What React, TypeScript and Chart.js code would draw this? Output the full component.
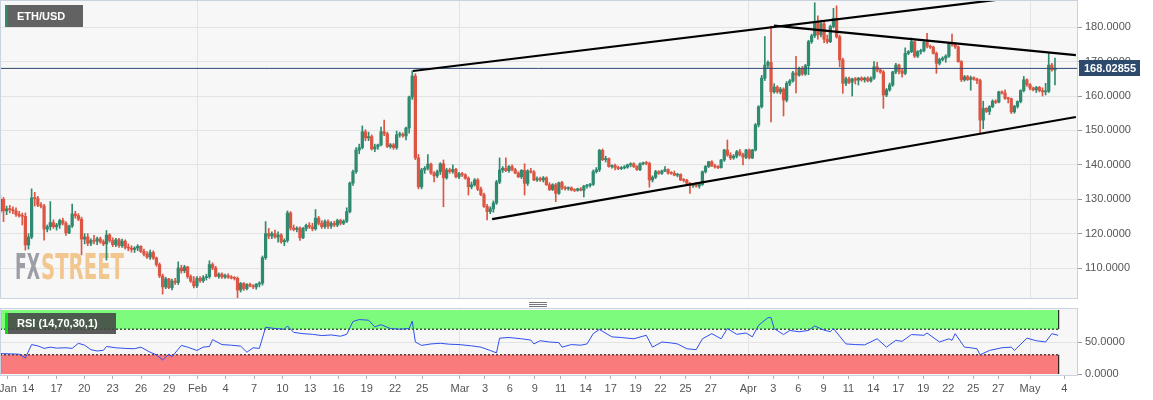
import React, { useEffect, useRef } from 'react';
import { Chart, registerables } from 'chart.js';
Chart.register(...registerables);

// ---- 8-hour ETH/USD candles (index 0 = first candle at the left edge) ----
const opens = [
  126.5,130,126.6,127.2,127,126.6,125.6,125.2,125,116.7,
  119,130.4,130.2,128.3,128,121.3,122,123.2,122,122.5,
  123.8,123,120.2,122.2,125.7,125.2,124.2,118.4,119,117.2,
  118,117.8,118.5,117.6,117,119.6,118,116.8,118.2,116.5,
  117.8,116,115.8,115.4,115.8,116.3,114.8,114,113.2,114.5,
  112.9,111,107.7,104.5,106.8,104.3,106.2,105.8,110,109.2,
  110.3,107.5,106.2,104.8,107,106.3,107.2,107.5,111,110,
  107.6,108.2,107.4,107.8,107.3,107.1,107,103.6,105.5,104,
  105.2,104.8,104.5,105.3,105.6,113,120,119.3,120,119,
  119.6,117.6,118,126,121.6,121.2,121.6,118.8,121.5,122.4,
  122,121.4,124.5,123,122,123.5,122.2,123,122.5,123.8,
  123,123.6,126.4,134.7,138,144.3,145,149.6,147.8,148.2,
  144.6,145.2,145.8,149.6,149,145.3,145.8,145,148.7,148.9,
  148.4,150.7,159.7,165.8,142,133.6,138.5,139,140.2,137.6,
  136.8,138,140.3,136.2,138.5,138,138.7,136.5,137.4,137.1,
  136.1,133.6,134.2,135.6,132.9,131.3,127.9,126.4,127.2,128.9,
  135,138.5,139,138.3,139.5,138.6,137.6,136.5,138.4,134.6,
  138.2,137.9,135.6,136,135.6,136.2,134.2,132.8,134.2,131.7,
  134.8,133.3,133.1,133.3,132.7,132.6,133,132.6,133.8,134,
  134.3,138,138.6,144.2,141.5,141.8,139.5,139.8,139.2,138.9,
  139.1,139.3,140,140.3,139.5,138.6,140.3,140.5,140.4,135.6,
  136.4,138,137.5,138.2,138.6,137.6,137.5,137,137.2,135.6,
  135.5,134.6,134,134.2,133.8,134.3,138,139.5,140.9,139.7,
  139.4,139.2,141.4,144.3,142.8,142,142.5,143.8,143,142.2,
  144.3,142,144.3,151.6,156.9,165.2,169,169.8,161.2,162.6,
  161.2,162,158.8,163.7,164.4,166.7,166.1,168,166.4,168.8,
  175.8,177.5,181.5,177.8,181,176.5,175.8,180.2,182.6,177.2,
  170.5,163.7,165,164,165,164.6,165.2,164.7,165.2,164.4,
  165.2,168.5,167.6,167,160.3,161.8,163.2,167,169,167.2,
  166.6,172.4,172.9,175.8,171.6,172.9,173.2,175.6,174.5,174.2,
  172.4,169.5,170.6,171,171.6,175.3,175,174.3,170,164.7,
  165.6,164.8,165.3,164.9,164.5,153,156.4,155.5,156.9,158.5,
  158.2,161.2,160.9,159.3,159.2,155.4,157,158.4,161.6,164.7,
  163.3,162.3,161.8,162.5,161.6,161.2,161.4,169,167.6,
];
const highs = [
  131,130.5,128,128.2,127.8,127.5,126.5,126,126,120,
  133,132,130.8,129,128.5,122.5,129.3,124,123,124.2,
  124.5,123.5,122.5,128.6,126.5,125.8,124.8,120,120,118.5,
  119.5,119,119,118.2,120.9,120,118.8,118.6,118.6,118.4,
  118.2,117,116.5,116.2,116.8,116.5,115.5,114.8,115.2,115,
  113.2,111.5,108.2,107.3,107,106.8,107,111.8,110.8,110.8,
  110.5,108,107.5,107.5,107.5,107.8,108.2,112.1,111.5,110.5,
  108.6,108.6,108.2,108.3,107.8,107.5,107.4,105.8,105.8,105.5,
  105.6,105.2,105.5,106,113.5,123.5,121.5,120.5,121,120.5,
  120,118.5,126.6,126.4,122.5,122,122,121.8,122.8,123.2,
  123,127,125,123.8,124,124,123.5,123.6,124.2,124.2,
  124,127.5,135,138.5,145,146,151.3,150.2,149.5,148.7,
  146,146,151,153,149.5,146.2,146.2,149.8,149.5,149.3,
  151,160,167.3,166.5,143,139,139.5,143,140.5,138,
  138.5,140.6,141.4,139,139,140,139,137.8,137.8,137.4,
  136.5,135,136,136,133.5,131.8,128.5,127.8,129.5,135.5,
  142,139.5,142,139.8,140,139,138,138.6,140.3,138.6,
  139,138.3,136.5,136.4,136.6,136.5,134.8,134.5,134.6,135,
  135.2,133.8,133.6,133.6,133,133.2,133.4,134,134.3,134.6,
  138.5,139.2,144.5,144.6,142.5,142,140,140.2,139.6,139.5,
  139.8,140.2,140.6,140.6,139.8,140.6,140.8,141,140.8,136.8,
  138.4,138.3,138.5,139.5,138.8,138,138.2,137.5,137.4,136,
  135.8,134.9,134.6,134.8,134.5,138.2,139.8,141,141.2,140.2,
  139.8,141.6,144.5,147.2,143.5,143,144.2,144.5,143.4,144.5,
  144.6,144.5,152,157.2,166,177.3,170.2,180.3,163.6,163,
  162.5,162.4,164.2,164.8,167.2,171.5,168.4,168.6,169.2,176.2,
  178,187.1,183.3,182.1,181.5,177.7,180.6,185.5,186.2,177.7,
  171,165.5,165.5,165.2,165.4,165.4,165.6,165.5,165.6,165.6,
  170,169.8,168,167.4,162.2,163.8,167.2,169.5,169.3,167.8,
  174,173.2,176.9,176,173.2,173.6,176,178.2,174.8,174.5,
  172.8,171,171.4,172,175.6,178,175.5,174.6,170.3,166,
  166,165.8,165.6,165.2,164.9,158.5,156.6,157.2,158.9,158.9,
  161.4,161.5,161.8,159.6,159.4,157.3,158.6,161.8,165.7,165,
  163.6,162.6,162.8,162.8,162.4,163.7,172.4,169.5,171,
];
const lows = [
  126,123.5,125.5,126,125.8,125,124.8,122.5,115.2,115.5,
  118.5,128,127.8,127.5,118.1,120.5,121,121.5,121,121.5,
  122.5,119.5,120,121.8,124.5,123.8,113.8,117,116.5,116.5,
  117,116.8,117.2,116.5,112.3,117.5,116.2,116.2,116,116,
  115.5,115,114.6,114.5,115,114.5,113.5,112.8,112.5,112.5,
  110.5,107.2,102.4,104,104,103.6,105.2,105.2,108.5,108.6,
  107,105.8,104.2,104.3,105.8,105.8,106.5,107,109.5,107.4,
  107,107,107,107,106.8,106.5,101.4,103,103.5,103.6,
  104.5,104,103.8,104.5,105,112.5,118.5,118.5,118.7,117.5,
  117.2,116.5,117.5,121,120.8,120.5,118,118.5,120.8,121.5,
  120.8,121,122.5,121.5,121.5,121.5,121.5,122,122,122.5,
  122.6,123.2,126,134,137.5,143.2,144.6,147,147,144.3,
  143.8,144.5,145.5,148.5,145,144.8,144.5,144.5,148,148,
  147.2,149.2,159,141.5,133,133,137.5,138.5,137.2,135,
  136.3,137.2,127.8,135.8,137.5,137.5,136.2,136,136.6,135.8,
  131.2,133,133.8,132.5,131,127.6,124,125.8,126.2,128.5,
  134.5,137.8,138,137.8,138.2,137.4,136.3,136,131.2,134,
  137.6,135.4,135.2,135.2,135,134,132.5,132.5,129.3,131.4,
  132.8,132.6,132.6,132.4,132.2,132.3,132.4,130.7,133.2,133.5,
  134,137.6,138,141.2,140.8,139.3,139,138.5,138.6,138.6,
  138.8,139,139.4,139.2,138.4,138.3,140,140,133.5,135,
  136,137.2,137.2,138,137.3,137.2,136.8,136.5,135.4,135,
  134.4,131.7,133.4,133.5,133.2,134,137.6,139.2,139.5,139,
  138.9,139,141,142.5,141.5,141.6,142,142.6,140,141.8,
  141.7,141.8,144,151,156.5,164.5,168,152.5,160.8,160.8,
  160.6,154.2,158.3,163,164,160.9,165.8,166,166,166.2,
  175.3,177,176.5,177.2,175.5,175.3,175.5,179.8,176.8,168.5,
  160.8,163,163.6,160,163.5,163.2,164.3,164,164.1,164,
  164.8,167,166.6,156.4,159.8,161.4,162.8,166.5,166.4,165.5,
  166.2,172,172.6,171.2,171.2,172.2,172.8,174,173.8,172.2,
  166.6,169,170.2,169.8,171.2,174.5,173.8,169.8,164.2,164.3,
  164.5,161.7,164.6,163.6,149.2,150.5,155.2,154.6,156.6,157.8,
  158,160.5,159,158,154.9,155,156.5,158,161.2,162.8,
  161.8,161.5,161,161.2,160,160.3,161,167.2,163.2,
];
const closes = [
  130,126.6,127.2,127,126.6,125.6,125.2,125,116.7,119,
  130.4,130.2,128.3,128,121.3,122,123.2,122,122.5,123.8,
  123,120.2,122.2,125.7,125.2,124.2,118.4,119,117.2,118,
  117.8,118.5,117.6,117,119.6,118,116.8,118.2,116.5,117.8,
  116,115.8,115.4,115.8,116.3,114.8,114,113.2,114.5,112.9,
  111,107.7,104.5,106.8,104.3,106.2,105.8,110,109.2,110.3,
  107.5,106.2,104.8,107,106.3,107.2,107.5,111,110,107.6,
  108.2,107.4,107.8,107.3,107.1,107,103.6,105.5,104,105.2,
  104.8,104.5,105.3,105.6,113,120,119.3,120,119,119.6,
  117.6,118,126,121.6,121.2,121.6,118.8,121.5,122.4,122,
  121.4,124.5,123,122,123.5,122.2,123,122.5,123.8,123,
  123.6,126.4,134.7,138,144.3,145,149.6,147.8,148.2,144.6,
  145.2,145.8,149.6,149,145.3,145.8,145,148.7,148.9,148.4,
  150.7,159.7,165.8,142,133.6,138.5,139,140.2,137.6,136.8,
  138,140.3,136.2,138.5,138,138.7,136.5,137.4,137.1,136.1,
  133.6,134.2,135.6,132.9,131.3,127.9,126.4,127.2,128.9,135,
  138.5,139,138.3,139.5,138.6,137.6,136.5,138.4,134.6,138.2,
  137.9,135.6,136,135.6,136.2,134.2,132.8,134.2,131.7,134.8,
  133.3,133.1,133.3,132.7,132.6,133,132.6,133.8,134,134.3,
  138,138.6,144.2,141.5,141.8,139.5,139.8,139.2,138.9,139.1,
  139.3,140,140.3,139.5,138.6,140.3,140.5,140.4,135.6,136.4,
  138,137.5,138.2,138.6,137.6,137.5,137,137.2,135.6,135.5,
  134.6,134,134.2,133.8,134.3,138,139.5,140.9,139.7,139.4,
  139.2,141.4,144.3,142.8,142,142.5,143.8,143,142.2,144.3,
  142,144.3,151.6,156.9,165.2,169,169.8,161.2,162.6,161.2,
  162,158.8,163.7,164.4,166.7,166.1,168,166.4,168.8,175.8,
  177.5,181.5,177.8,181,176.5,175.8,180.2,182.6,177.2,170.5,
  163.7,165,164,165,164.6,165.2,164.7,165.2,164.4,165.2,
  168.5,167.6,167,160.3,161.8,163.2,167,169,167.2,166.6,
  172.4,172.9,175.8,171.6,172.9,173.2,175.6,174.5,174.2,172.4,
  169.5,170.6,171,171.6,175.3,175,174.3,170,164.7,165.6,
  164.8,165.3,164.9,164.5,153,156.4,155.5,156.9,158.5,158.2,
  161.2,160.9,159.3,159.2,155.4,157,158.4,161.6,164.7,163.3,
  162.3,161.8,162.5,161.6,161.2,161.4,169,167.6,168.03,
];

// ---- RSI(14) (x in candle index) ----
const rsiIdx = [
  0,3,6,8,10,12,14,16,18,21,23,25,27,29,31,33,34,37,40,43,
  45,48,50,52,54,55,58,60,63,65,67,68,71,74,77,79,81,83,85,88,
  91,92,94,97,100,103,106,109,111,113,115,118,120,122,125,128,131,132,133,135,
  138,141,144,147,151,154,157,159,160,163,167,170,171,173,176,179,180,183,186,188,
  190,192,196,199,203,207,209,212,215,217,220,223,225,228,231,233,236,239,241,243,
  246,247,248,251,253,256,259,261,264,266,267,271,274,277,281,284,287,289,292,296,
  297,301,304,305,306,309,311,313,314,317,321,324,325,329,332,335,337,339,
];
const rsiVal = [
  32,31.5,31,25,46,44,40,42,40.5,41,40,48,45,38,36,37,43,41,40,39.5,
  42,34,30,22,31,27,44.7,42,36.8,42,43,53.7,46,45,43.6,34,41,40,73,71,
  70,75,65,63,62,60,61,59,62,82,85,84,73.6,77,71,70,71,82.6,50,44.7,
  47,48,46.5,46,44,42,36.8,33,56,57,55,53,47,52,50,49,42,46,45,47,
  63,69.5,58,57,55,60.5,42,50,48.5,47,39.5,38,55,63,55,71,62,64,58,76,
  88,88,71,61.6,68,66,68,75,68.5,66,71,47,46,45.5,55,42,52.6,51,61.6,60.5,
  64,50,55,52.6,63,42,41,39.5,30,36.8,41,42,36.8,56,52,50,63,60.5,
];

// ---- axis ticks ----
const xTickPos = [
  2.4, 8.9, 18.0, 26.9, 36.0, 45.1, 54.1,
  63.2, 72.2, 81.3, 90.4, 99.3, 108.4, 117.4, 126.5, 135.2,
  147.3, 155.3, 163.3, 171.3, 179.6, 187.6, 195.6, 203.6, 211.6, 219.6, 227.7,
  239.7, 247.7, 255.7, 263.8, 271.8, 279.8, 287.8, 295.8, 303.8, 311.8, 319.8,
  330.0, 341.0,
];
const xTickLabels = [
  'Jan', '14', '17', '20', '23', '26', '29',
  'Feb', '4', '7', '10', '13', '16', '19', '22', '25',
  'Mar', '3', '6', '9', '11', '14', '17', '19', '22', '25', '27',
  'Apr', '3', '6', '9', '11', '14', '17', '19', '22', '25', '27',
  'May', '4',
];
const priceTicks = [110, 120, 130, 140, 150, 160, 170, 180];
const rsiTicks = [0, 50];

// ---- drawn trend lines (candle index, price) ----
const channelTop = [[132.2, 167.27], [345.5, 190.85]];
const channelBottom = [[157.6, 124.2], [344.7, 153.9]];
const resistance = [[247.9, 180.44], [344.7, 171.9]];

const lastPrice = 168.02855;
const symbolName = 'ETH/USD';
const rsiName = 'RSI (14,70,30,1)';
const rsiUpper = 70;
const rsiLower = 30;

const FONT = "'Liberation Sans', Arial, Helvetica, sans-serif";
const UP = '#2f8a70';
const DOWN = '#dc5643';
const GRID = '#e3e3e3';
const FRAME = '#c8d2e0';
const LABEL = '#555555';
const X_MIN = -0.13;
const X_MAX = 345.06;
const BAND_END = 339.2;
const MONTHS = ['Feb', 'Mar', 'Apr', 'May'];

const xGridColor = (ctx: any) =>
  MONTHS.includes(xTickLabels[ctx.index]) ? GRID : 'rgba(0,0,0,0)';

const pts = (arr: number[][]) => arr.map(([x, y]) => ({ x, y }));

const noPad = (s: any) => {
  s.paddingTop = 0;
  s.paddingBottom = 0;
  s.paddingLeft = 0;
  s.paddingRight = 0;
};

export default function App() {
  const mainRef = useRef<HTMLCanvasElement | null>(null);
  const rsiRef = useRef<HTMLCanvasElement | null>(null);

  useEffect(() => {
    Chart.defaults.font.family = FONT;
    const colors = closes.map((c, i) => (c >= opens[i] ? UP : DOWN));
    const bodies = opens.map((o, i) => ({ x: i, y: [o, closes[i]] }));
    const wicks = lows.map((l, i) => ({ x: i, y: [l, highs[i]] }));

    const mainDecor = {
      id: 'mainDecor',
      beforeDraw(chart: any) {
        const { ctx, chartArea: a } = chart;
        ctx.save();
        ctx.fillStyle = '#f7f7f7';
        ctx.fillRect(a.left, a.top, a.right - a.left, a.bottom - a.top);
        ctx.restore();
      },
      beforeDatasetsDraw(chart: any) {
        const ctx = chart.ctx;
        ctx.save();
        ctx.font = "bold 36px 'DejaVu Sans'";
        ctx.textBaseline = 'alphabetic';
        const wFX = ctx.measureText('FX').width;
        ctx.translate(15, 279);
        ctx.scale(25 / wFX, 1);
        ctx.fillStyle = '#9d9da6';
        ctx.fillText('FX', 0, 0);
        ctx.restore();
        ctx.save();
        ctx.font = "bold 36px 'DejaVu Sans'";
        ctx.textBaseline = 'alphabetic';
        const wS = ctx.measureText('STREET').width;
        ctx.translate(41, 279);
        ctx.scale(83 / wS, 1);
        ctx.fillStyle = '#f2c68f';
        ctx.fillText('STREET', 0, 0);
        ctx.restore();
      },
      afterDraw(chart: any) {
        const { ctx, chartArea: a } = chart;
        ctx.save();
        ctx.strokeStyle = FRAME;
        ctx.lineWidth = 1;
        ctx.strokeRect(a.left + 0.5, a.top - 0.5, a.right - a.left, a.bottom - a.top + 1);
        // price tag
        const y = Math.round(chart.scales.y.getPixelForValue(lastPrice));
        ctx.fillStyle = '#2d4a6e';
        ctx.fillRect(1079, y - 8, 61, 16);
        ctx.fillStyle = '#ffffff';
        ctx.font = `bold 11px ${FONT}`;
        ctx.textBaseline = 'middle';
        ctx.textAlign = 'left';
        ctx.fillText(lastPrice.toFixed(5), 1084, y + 0.5);
        // symbol label
        ctx.fillStyle = '#626262';
        ctx.fillRect(5, 5, 78, 22);
        ctx.fillStyle = '#2e8b6e';
        ctx.fillRect(5, 5, 2.5, 22);
        ctx.fillStyle = '#ffffff';
        ctx.font = `bold 11px ${FONT}`;
        ctx.fillText(symbolName, 17, 17);
        ctx.restore();
      },
    };

    const main = new Chart(mainRef.current as HTMLCanvasElement, {
      type: 'bar',
      data: {
        datasets: [
          { type: 'line', data: pts(channelTop), borderColor: '#000', borderWidth: 2.2, pointRadius: 0, order: 0 },
          { type: 'line', data: pts(channelBottom), borderColor: '#000', borderWidth: 2.2, pointRadius: 0, order: 0 },
          { type: 'line', data: pts(resistance), borderColor: '#000', borderWidth: 2.2, pointRadius: 0, order: 0 },
          { type: 'line', data: [{ x: X_MIN, y: lastPrice }, { x: X_MAX, y: lastPrice }], borderColor: '#2c4a72', borderWidth: 1, pointRadius: 0, order: 0 },
          { type: 'bar', data: bodies, backgroundColor: colors, barThickness: 2.6, grouped: false, minBarLength: 1, borderWidth: 0, order: 1 },
          { type: 'bar', data: wicks, backgroundColor: colors, barThickness: 1, grouped: false, borderWidth: 0, order: 2 },
        ] as any,
      },
      options: {
        animation: false,
        responsive: false,
        maintainAspectRatio: false,
        events: [],
        layout: { padding: { top: 1, left: 0, right: 0, bottom: 0 } },
        plugins: { legend: { display: false }, tooltip: { enabled: false } },
        scales: {
          x: {
            type: 'linear',
            min: X_MIN,
            max: X_MAX,
            offset: false,
            afterBuildTicks: (s: any) => { s.ticks = xTickPos.map((v) => ({ value: v })); },
            afterFit: (s: any) => { s.height = 2; noPad(s); },
            ticks: { display: false },
            grid: { color: xGridColor, drawTicks: false, offset: false },
            border: { display: false },
          },
          y: {
            position: 'right',
            min: 101.28,
            max: 187.62,
            beginAtZero: false,
            afterBuildTicks: (s: any) => { s.ticks = priceTicks.map((v) => ({ value: v })); },
            afterFit: (s: any) => { s.width = 76; noPad(s); },
            ticks: { callback: (v: any) => Number(v).toFixed(4), font: { size: 11 }, color: LABEL, padding: 3 },
            grid: { color: GRID, tickColor: '#999', tickLength: 5 },
            border: { display: false },
          },
        } as any,
      },
      plugins: [mainDecor],
    } as any);

    const rsiDecor = {
      id: 'rsiDecor',
      beforeDraw(chart: any) {
        const { ctx, chartArea: a } = chart;
        ctx.save();
        ctx.fillStyle = '#f7f7f7';
        ctx.fillRect(a.left, a.top, a.right - a.left, a.bottom - a.top);
        ctx.restore();
      },
      afterDraw(chart: any) {
        const { ctx, chartArea: a } = chart;
        ctx.save();
        ctx.strokeStyle = FRAME;
        ctx.lineWidth = 1;
        ctx.strokeRect(a.left + 0.5, a.top - 0.5, a.right - a.left, a.bottom - a.top + 1);
        // panel handle
        ctx.fillStyle = '#777';
        for (let k = 0; k < 3; k++) ctx.fillRect(529, 2 + k * 2, 18, 1);
        // label
        ctx.fillStyle = 'rgba(70,70,70,0.88)';
        ctx.fillRect(8, 13, 108, 21);
        ctx.fillStyle = '#11dd11';
        ctx.fillRect(5, 13, 3, 21);
        ctx.fillStyle = '#ffffff';
        ctx.font = `bold 11px ${FONT}`;
        ctx.textBaseline = 'middle';
        ctx.fillText(rsiName, 17, 24);
        ctx.restore();
      },
    };

    const rsi = new Chart(rsiRef.current as HTMLCanvasElement, {
      type: 'line',
      data: {
        datasets: [
          { data: rsiIdx.map((x, i) => ({ x, y: rsiVal[i] })), borderColor: '#2f50ee', borderWidth: 1, pointRadius: 0, tension: 0, order: 0 },
          { data: [{ x: X_MIN, y: 100 }, { x: BAND_END, y: 100 }], borderWidth: 0, pointRadius: 0, backgroundColor: '#7cfb7c', fill: { value: rsiUpper }, order: 5 },
          { data: [{ x: X_MIN, y: rsiLower }, { x: BAND_END, y: rsiLower }], borderWidth: 0, pointRadius: 0, backgroundColor: '#fa7b7b', fill: { value: 0 }, order: 5 },
          { data: [{ x: X_MIN, y: rsiUpper }, { x: BAND_END, y: rsiUpper }], borderColor: '#000', borderWidth: 1, borderDash: [2, 2], pointRadius: 0, order: 2 },
          { data: [{ x: X_MIN, y: rsiLower }, { x: BAND_END, y: rsiLower }], borderColor: '#000', borderWidth: 1, borderDash: [2, 2], pointRadius: 0, order: 2 },
          { data: [{ x: BAND_END, y: rsiUpper }, { x: BAND_END, y: 100 }], borderColor: '#000', borderWidth: 1, pointRadius: 0, order: 2 },
          { data: [{ x: BAND_END, y: 0 }, { x: BAND_END, y: rsiLower }], borderColor: '#000', borderWidth: 1, pointRadius: 0, order: 2 },
          { data: [{ x: 0.05, y: rsiUpper }, { x: 0.05, y: 100 }], borderColor: '#000', borderWidth: 1, pointRadius: 0, order: 2 },
          { data: [{ x: 0.05, y: 0 }, { x: 0.05, y: rsiLower }], borderColor: '#000', borderWidth: 1, pointRadius: 0, order: 2 },
        ] as any,
      },
      options: {
        animation: false,
        responsive: false,
        maintainAspectRatio: false,
        events: [],
        layout: { padding: { top: 9, left: 0, right: 0, bottom: 0 } },
        plugins: { legend: { display: false }, tooltip: { enabled: false } },
        scales: {
          x: {
            type: 'linear',
            min: X_MIN,
            max: X_MAX,
            offset: false,
            afterBuildTicks: (s: any) => { s.ticks = xTickPos.map((v) => ({ value: v })); },
            afterFit: (s: any) => { s.height = 25; noPad(s); },
            ticks: {
              callback: (_v: any, i: number) => xTickLabels[i],
              autoSkip: false,
              maxRotation: 0,
              minRotation: 0,
              font: { size: 11 },
              color: LABEL,
              padding: 3,
            },
            grid: { color: xGridColor, tickColor: '#b0b0b0', tickLength: 4, offset: false },
            border: { display: false },
          },
          y: {
            position: 'right',
            min: -1.5,
            max: 101.5,
            afterBuildTicks: (s: any) => { s.ticks = rsiTicks.map((v) => ({ value: v })); },
            afterFit: (s: any) => { s.width = 76; noPad(s); },
            ticks: { callback: (v: any) => Number(v).toFixed(4), font: { size: 11 }, color: LABEL, padding: 3 },
            grid: { color: (c: any) => (c.tick && c.tick.value === 50 ? GRID : 'rgba(0,0,0,0)'), tickColor: '#999', tickLength: 5 },
            border: { display: false },
          },
        } as any,
      },
      plugins: [rsiDecor],
    } as any);

    return () => {
      main.destroy();
      rsi.destroy();
    };
  }, []);

  return (
    <div style={{ position: 'absolute', left: 0, top: 0, width: 1153, height: 400, background: '#ffffff' }}>
      <canvas ref={mainRef} width={1153} height={300} style={{ position: 'absolute', left: 0, top: 0, width: 1153, height: 300 }} />
      <canvas ref={rsiRef} width={1153} height={100} style={{ position: 'absolute', left: 0, top: 300, width: 1153, height: 100 }} />
    </div>
  );
}
